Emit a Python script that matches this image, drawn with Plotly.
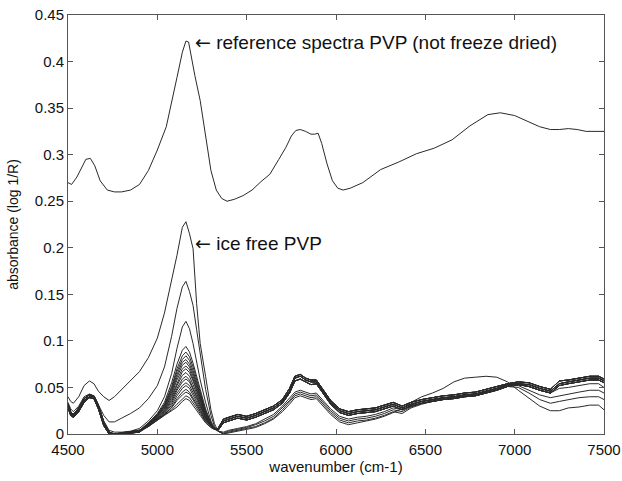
import plotly.graph_objects as go

# ---------------- data ----------------
# reference spectrum (PVP, not freeze dried)
ref_x = [4500, 4520, 4550, 4580, 4600, 4625, 4650, 4680, 4720, 4760, 4800, 4850, 4900, 4950,
         5000, 5050, 5080, 5110, 5140, 5160, 5175, 5190, 5210, 5240, 5270, 5300, 5330, 5360,
         5390, 5430, 5480, 5530, 5580, 5630, 5680, 5720, 5750, 5775, 5800, 5830, 5860, 5880,
         5900, 5920, 5950, 5980, 6010, 6040, 6080, 6150, 6250, 6350, 6450, 6550, 6650, 6750,
         6850, 6920, 7000, 7070, 7140, 7200, 7250, 7300, 7350, 7400, 7450, 7500]
ref_y = [0.270, 0.268, 0.276, 0.288, 0.295, 0.296, 0.288, 0.272, 0.262, 0.260, 0.260, 0.262, 0.268, 0.283,
         0.305, 0.330, 0.355, 0.383, 0.410, 0.422, 0.421, 0.405, 0.385, 0.358, 0.318, 0.283, 0.262, 0.253,
         0.250, 0.252, 0.256, 0.262, 0.271, 0.279, 0.295, 0.308, 0.320, 0.326, 0.327, 0.325, 0.322, 0.322,
         0.323, 0.312, 0.290, 0.272, 0.264, 0.262, 0.264, 0.270, 0.284, 0.292, 0.301, 0.307, 0.316, 0.331,
         0.343, 0.345, 0.342, 0.336, 0.330, 0.327, 0.327, 0.328, 0.327, 0.325, 0.325, 0.325]

# wavenumber grids for the freeze-dried spectra
x_left = [4500, 4515, 4530, 4560, 4590, 4620, 4645, 4670, 4700, 4730, 4760, 4800, 4850, 4900]
x_peak = [4950, 5000, 5040, 5080, 5110, 5140, 5160, 5180, 5200, 5220, 5240, 5270, 5300, 5320]
x_right = [5340, 5370, 5400, 5450, 5500, 5550, 5600, 5650, 5700, 5740, 5770, 5800, 5830, 5860, 5890,
           5930, 5970, 6020, 6070, 6120, 6170, 6220, 6270, 6320, 6370, 6420, 6480, 6540, 6600, 6660,
           6720, 6780, 6840, 6900, 6960, 7020, 7080, 7140, 7200, 7250, 7300, 7360, 7420, 7470, 7500]

# ice free PVP (largest peak) and the next two spectra, left+peak part
iceA_lp = [0.040, 0.035, 0.033, 0.040, 0.052, 0.057, 0.054, 0.046, 0.040, 0.036, 0.040, 0.048, 0.058, 0.067,
           0.082, 0.103, 0.130, 0.165, 0.192, 0.222, 0.228, 0.215, 0.199, 0.140, 0.097, 0.062, 0.026, 0.011]
specB_lp = [0.034, 0.027, 0.024, 0.030, 0.040, 0.043, 0.041, 0.032, 0.020, 0.013, 0.013, 0.017, 0.022, 0.028,
            0.038, 0.052, 0.072, 0.105, 0.135, 0.158, 0.164, 0.153, 0.138, 0.112, 0.085, 0.048, 0.020, 0.008]
specC_lp = [0.031, 0.023, 0.020, 0.027, 0.038, 0.042, 0.041, 0.030, 0.014, 0.004, 0.002, 0.002, 0.003, 0.006,
            0.014, 0.025, 0.040, 0.065, 0.092, 0.115, 0.121, 0.113, 0.097, 0.078, 0.058, 0.034, 0.014, 0.006]

# right part of the low group
iceA_r = [0.003, 0.000, 0.001, 0.003, 0.005, 0.007, 0.011, 0.016, 0.024, 0.032, 0.039, 0.041, 0.039, 0.037, 0.038,
          0.030, 0.021, 0.013, 0.010, 0.012, 0.014, 0.016, 0.019, 0.023, 0.027, 0.034, 0.040, 0.044, 0.049, 0.056,
          0.060, 0.061, 0.062, 0.061, 0.056, 0.047, 0.038, 0.030, 0.025, 0.025, 0.028, 0.029, 0.031, 0.031, 0.026]
specB_r = [0.003, 0.000, 0.002, 0.004, 0.006, 0.008, 0.012, 0.017, 0.026, 0.034, 0.041, 0.043, 0.041, 0.039, 0.040,
           0.032, 0.023, 0.015, 0.012, 0.014, 0.015, 0.017, 0.020, 0.024, 0.022, 0.028, 0.032, 0.035, 0.037, 0.039,
           0.041, 0.042, 0.045, 0.048, 0.051, 0.050, 0.044, 0.037, 0.033, 0.035, 0.037, 0.039, 0.040, 0.040, 0.037]
specC_r = [0.003, 0.001, 0.003, 0.005, 0.007, 0.010, 0.014, 0.019, 0.028, 0.036, 0.043, 0.045, 0.043, 0.041, 0.042,
           0.034, 0.025, 0.017, 0.014, 0.016, 0.017, 0.019, 0.022, 0.026, 0.024, 0.029, 0.033, 0.036, 0.038, 0.040,
           0.042, 0.043, 0.046, 0.049, 0.052, 0.052, 0.047, 0.042, 0.039, 0.041, 0.043, 0.045, 0.047, 0.047, 0.044]
specD_r = [0.003, 0.002, 0.004, 0.006, 0.008, 0.011, 0.016, 0.021, 0.030, 0.038, 0.045, 0.047, 0.045, 0.043, 0.044,
           0.036, 0.027, 0.019, 0.016, 0.018, 0.019, 0.021, 0.024, 0.028, 0.026, 0.031, 0.035, 0.037, 0.039, 0.040,
           0.042, 0.043, 0.046, 0.049, 0.053, 0.054, 0.051, 0.047, 0.044, 0.049, 0.050, 0.052, 0.054, 0.054, 0.050]

# left part of the main bundle (three traced edges)
bundle_left = [
    [0.032, 0.024, 0.021, 0.028, 0.038, 0.042, 0.041, 0.031, 0.013, 0.002, 0.000, 0.001, 0.002, 0.004],
    [0.030, 0.022, 0.019, 0.026, 0.036, 0.040, 0.040, 0.029, 0.011, 0.001, 0.000, 0.000, 0.001, 0.003],
    [0.028, 0.020, 0.018, 0.024, 0.034, 0.039, 0.038, 0.027, 0.009, 0.000, 0.000, 0.000, 0.001, 0.002],
]

# peak part (5150 band) of each bundle spectrum
bundle_peak = [
    [0.012, 0.022, 0.034, 0.055, 0.075, 0.090, 0.094, 0.088, 0.076, 0.063, 0.048, 0.027, 0.012, 0.006],
    [0.012, 0.021, 0.032, 0.051, 0.070, 0.084, 0.088, 0.083, 0.072, 0.059, 0.045, 0.025, 0.012, 0.006],
    [0.011, 0.021, 0.031, 0.049, 0.067, 0.080, 0.084, 0.079, 0.068, 0.056, 0.043, 0.024, 0.011, 0.006],
    [0.011, 0.020, 0.030, 0.047, 0.064, 0.077, 0.080, 0.075, 0.065, 0.053, 0.041, 0.023, 0.011, 0.006],
    [0.011, 0.020, 0.029, 0.045, 0.061, 0.074, 0.077, 0.072, 0.062, 0.051, 0.039, 0.022, 0.011, 0.006],
    [0.010, 0.019, 0.028, 0.043, 0.058, 0.070, 0.073, 0.069, 0.059, 0.048, 0.037, 0.021, 0.010, 0.006],
    [0.010, 0.019, 0.027, 0.041, 0.055, 0.067, 0.070, 0.066, 0.057, 0.046, 0.036, 0.020, 0.010, 0.005],
    [0.010, 0.018, 0.026, 0.039, 0.052, 0.063, 0.066, 0.062, 0.053, 0.044, 0.034, 0.019, 0.010, 0.005],
    [0.010, 0.018, 0.025, 0.037, 0.049, 0.059, 0.062, 0.058, 0.050, 0.041, 0.032, 0.018, 0.009, 0.005],
    [0.009, 0.017, 0.024, 0.035, 0.047, 0.056, 0.059, 0.056, 0.048, 0.039, 0.031, 0.018, 0.009, 0.005],
    [0.009, 0.017, 0.023, 0.033, 0.044, 0.052, 0.055, 0.052, 0.045, 0.037, 0.029, 0.017, 0.009, 0.005],
    [0.009, 0.016, 0.022, 0.031, 0.041, 0.049, 0.052, 0.049, 0.042, 0.035, 0.027, 0.016, 0.008, 0.005],
    [0.009, 0.016, 0.021, 0.029, 0.038, 0.045, 0.048, 0.045, 0.039, 0.032, 0.025, 0.015, 0.008, 0.005],
    [0.008, 0.015, 0.021, 0.028, 0.036, 0.042, 0.045, 0.043, 0.037, 0.030, 0.024, 0.014, 0.008, 0.005],
    [0.008, 0.015, 0.020, 0.026, 0.032, 0.038, 0.041, 0.039, 0.034, 0.028, 0.022, 0.013, 0.007, 0.005],
    [0.008, 0.015, 0.020, 0.025, 0.029, 0.035, 0.038, 0.036, 0.031, 0.026, 0.020, 0.012, 0.007, 0.005],
]

# right part of the main bundle (three traced edges)
bundle_right = [
    [0.006, 0.016, 0.018, 0.021, 0.019, 0.022, 0.026, 0.030, 0.037, 0.049, 0.062, 0.064, 0.060, 0.058, 0.058,
     0.047, 0.036, 0.027, 0.024, 0.026, 0.027, 0.028, 0.031, 0.034, 0.030, 0.034, 0.037, 0.039, 0.041, 0.042,
     0.044, 0.045, 0.048, 0.051, 0.054, 0.056, 0.055, 0.051, 0.048, 0.057, 0.058, 0.060, 0.062, 0.062, 0.059],
    [0.005, 0.014, 0.016, 0.019, 0.017, 0.020, 0.024, 0.028, 0.035, 0.046, 0.060, 0.062, 0.058, 0.056, 0.056,
     0.045, 0.034, 0.025, 0.022, 0.024, 0.025, 0.026, 0.029, 0.032, 0.028, 0.032, 0.035, 0.037, 0.039, 0.040,
     0.042, 0.043, 0.046, 0.049, 0.053, 0.054, 0.053, 0.049, 0.046, 0.054, 0.056, 0.058, 0.060, 0.060, 0.057],
    [0.004, 0.012, 0.014, 0.017, 0.015, 0.018, 0.022, 0.026, 0.033, 0.044, 0.057, 0.059, 0.056, 0.053, 0.054,
     0.043, 0.032, 0.023, 0.020, 0.022, 0.023, 0.024, 0.027, 0.030, 0.026, 0.030, 0.033, 0.035, 0.037, 0.038,
     0.040, 0.041, 0.044, 0.047, 0.051, 0.053, 0.051, 0.047, 0.044, 0.052, 0.054, 0.056, 0.058, 0.058, 0.055],
]

x_ticks = [4500, 5000, 5500, 6000, 6500, 7000, 7500]
y_ticks = [0, 0.05, 0.1, 0.15, 0.2, 0.25, 0.3, 0.35, 0.4, 0.45]
y_ticklabels = ["0", "0.05", "0.1", "0.15", "0.2", "0.25", "0.3", "0.35", "0.4", "0.45"]

# ---------------- figure ----------------
LINE = dict(color="#2a2a2a", width=1)
fig = go.Figure()

x_full = x_left + x_peak + x_right

for i, pk in enumerate(bundle_peak):
    left = bundle_left[i % 3]
    right = specD_r if i == 0 else bundle_right[i % 3]
    fig.add_trace(go.Scatter(x=x_full, y=left + pk + right, mode="lines", line=LINE,
                             showlegend=False, hoverinfo="skip"))

for lp, r in [(specC_lp, specC_r), (specB_lp, specB_r), (iceA_lp, iceA_r)]:
    fig.add_trace(go.Scatter(x=x_full, y=lp + r, mode="lines", line=LINE,
                             showlegend=False, hoverinfo="skip"))

fig.add_trace(go.Scatter(x=ref_x, y=ref_y, mode="lines", line=LINE,
                         showlegend=False, hoverinfo="skip"))

FONT = "Liberation Sans, Arial, Helvetica, sans-serif"
ARROW = "<span style='font-family:DejaVu Sans'>\u2190</span>"

fig.add_annotation(x=5200, y=0.421, xref="x", yref="y",
                   text=ARROW + " reference spectra PVP (not freeze dried)",
                   showarrow=False, xanchor="left", yanchor="middle",
                   font=dict(family=FONT, size=19, color="#111"))
fig.add_annotation(x=5200, y=0.205, xref="x", yref="y", text=ARROW + " ice free PVP",
                   showarrow=False, xanchor="left", yanchor="middle",
                   font=dict(family=FONT, size=19, color="#111"))

axis_common = dict(showline=True, linecolor="#555", linewidth=1, mirror="ticks",
                   ticks="inside", ticklen=5, tickcolor="#555", showgrid=False, zeroline=False,
                   automargin=False,
                   tickfont=dict(family=FONT, size=15, color="#111"))

fig.update_xaxes(range=[4500, 7500], tickvals=x_ticks, ticktext=[str(v) for v in x_ticks],
                 ticklabelstandoff=2,
                 title=dict(text="wavenumber (cm-1)", font=dict(family=FONT, size=15, color="#111"), standoff=2),
                 **axis_common)
fig.update_yaxes(range=[0, 0.45], tickvals=y_ticks, ticktext=y_ticklabels,
                 title=dict(text="absorbance (log 1/R)", font=dict(family=FONT, size=14, color="#111"), standoff=12),
                 **axis_common)

fig.update_layout(width=622, height=481, margin=dict(l=68, r=18, t=15, b=47),
                  paper_bgcolor="white", plot_bgcolor="white")

fig.write_html("out.html", config={"displayModeBar": False},
               post_script="document.body.style.margin='0';")
